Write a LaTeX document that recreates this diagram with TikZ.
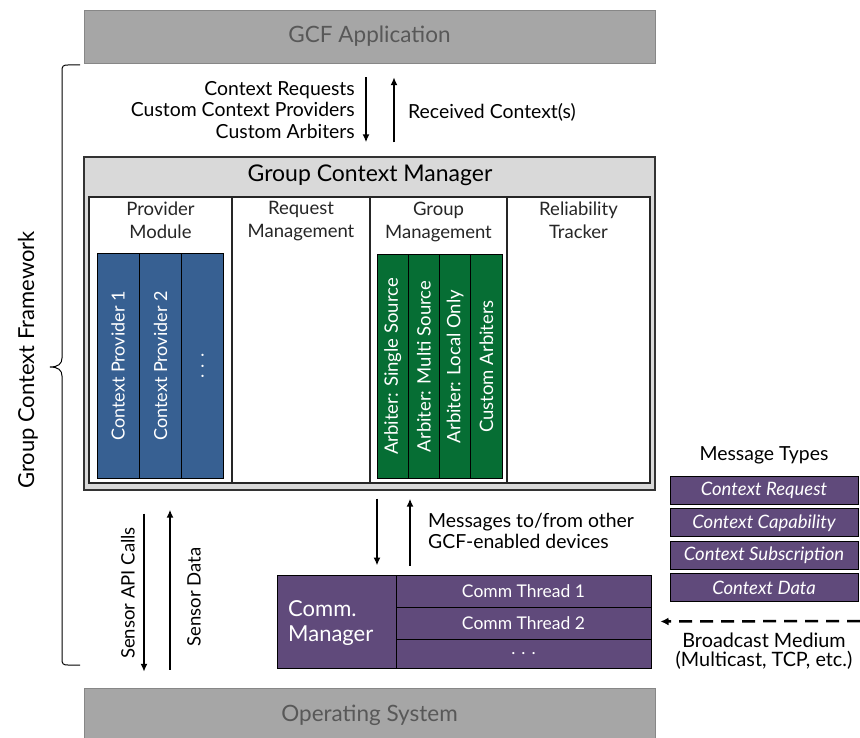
\documentclass[tikz,border=0pt]{standalone}
\usepackage{fontspec}
\setmainfont{Lato}
\usetikzlibrary{positioning,arrows.meta}

\definecolor{CgLayer}{RGB}{166,166,166}
\definecolor{CgLayerB}{RGB}{135,135,135}
\definecolor{CgText}{RGB}{88,88,88}
\definecolor{CgMgr}{RGB}{217,217,217}
\definecolor{CpBlue}{RGB}{55,96,146}
\definecolor{CpGreen}{RGB}{6,110,52}
\definecolor{CpPurple}{RGB}{96,74,123}

\newcommand\pxfont[2]{\fontsize{#1}{#2}\selectfont}

\tikzset{
layerbox/.style={draw=CgLayerB, fill=CgLayer, text=CgText, inner sep=0pt, minimum width=571, minimum height=#1, font=\pxfont{22.5}{26}},
mgrbox/.style={draw=black!80, fill=CgMgr, line width=1.3pt, minimum width=571, minimum height=333, inner sep=0pt},
colbox/.style={draw=black!85, fill=white, line width=1.2pt, minimum width=#1, minimum height=286, inner sep=0pt},
colhead/.style={align=center, font=\pxfont{18.5}{23}, text=black!85, inner sep=0pt},
modbox/.style={draw=black, line width=1pt, text=white, rotate=90, minimum width=224, minimum height=#1, inner sep=0pt},
flow/.style={line width=2pt, -{Latex[length=8pt,width=7pt]}},
bflow/.style={line width=2.5pt, dash pattern=on 13pt off 8pt, -{Latex[length=8pt,width=8pt]}},
lbl/.style={font=\pxfont{19.4}{21.5}, inner sep=0pt},
msgbox/.style={draw=black, fill=CpPurple, text=white, line width=1pt, minimum width=188, minimum height=28, inner sep=0pt, font=\itshape\pxfont{18.5}{21}},
thrbox/.style={draw=black, fill=CpPurple, text=white, line width=1pt, minimum width=255, minimum height=#1, inner sep=0pt, font=\pxfont{17.5}{20}},
}

\begin{document}
\begin{tikzpicture}[x=1pt, y=-1pt]
\useasboundingbox (0,0) rectangle (860,738);

%% Layers
\node[layerbox=53] (app) at (369.5,36.5) {GCF Application};
\node[layerbox=54] (os) at (369.5,715) {Operating System};

%% Framework brace
\draw[line width=1pt] (80,65) -- (68,65) .. controls (63,65) and (62,66) .. (62,71) -- (62,358)
  .. controls (62,364) and (58,367) .. (50,367) .. controls (58,367) and (62,370) .. (62,376)
  -- (62,659) .. controls (62,664) and (63,665) .. (68,665) -- (80,665);
\node[font=\pxfont{22}{26}, rotate=90] (gcf) at (28,360) {Group Context Framework};

%% Group Context Manager
\node[mgrbox] (gcm) at (369.5,323.5) {};
\node[font=\pxfont{23}{27}, inner sep=0pt] (gcmtitle) at (370,175) {Group Context Manager};

\node[colbox=143] (colprov) at (160.5,340) {};
\node[colbox=138] (colreq) at (301,340) {};
\node[colbox=137] (colgrp) at (438.5,340) {};
\node[colbox=143] (colrel) at (578.5,340) {};

\node[colhead, below=5pt of colprov.north] (hprov) {Provider\\Module};
\node[colhead, below=5pt of colreq.north] (hreq) {Request\\Management};
\node[colhead, below=5pt of colgrp.north] (hgrp) {Group\\Management};
\node[colhead, below=5pt of colrel.north] (hrel) {Reliability\\Tracker};

% providers
\foreach \t [count=\i] in {Context Provider 1, Context Provider 2, . . .}
  \node[modbox=42.3, fill=CpBlue, font=\pxfont{18}{21}] (prov\i) at ({75.85+42.3*\i},366) {\t};

% arbiters
\foreach \t [count=\i] in {Arbiter: Single Source, Arbiter: Multi Source, Arbiter: Local Only, Custom Arbiters}
  \node[modbox=31.25, fill=CpGreen, font=\pxfont{18.5}{21}] (arb\i) at ({361.4+31.25*\i},366.5) {\t};

%% Application <-> manager
\draw[flow] ([shift={(-3.5,14)}]app.south) -- ([shift={(-3.5,-14)}]gcm.north);
\draw[flow] ([shift={(24.5,-14)}]gcm.north) -- ([shift={(24.5,14)}]app.south);
\node[lbl, align=right, anchor=east] (reqtxt) at (355,110) {Context Requests\\Custom Context Providers\\Custom Arbiters};
\node[lbl, anchor=west] (rcvtxt) at (408,112) {Received Context(s)};

%% Comm. Manager
\node[draw=black, fill=CpPurple, line width=1pt, minimum width=374, minimum height=93, inner sep=0pt] (comm) at (464,621.5) {};
\node[thrbox=32] (thr1) at (523.5,591) {Comm Thread 1};
\node[thrbox=32] (thr2) at (523.5,623) {Comm Thread 2};
\node[thrbox=29] (thr3) at (523.5,653.5) {. . .};
\node[font=\pxfont{22}{25}, text=white, align=left, anchor=west, inner sep=0pt] (commtxt) at (288,623) {Comm.\\Manager};

%% Manager <-> comm
\draw[flow] ([shift={(7.5,8)}]gcm.south) -- ([shift={(-87,-9)}]comm.north);
\draw[flow] ([shift={(-54,-9)}]comm.north) -- ([shift={(40.5,8)}]gcm.south);
\node[lbl, align=left, anchor=west] (msgtxt) at (428,531) {Messages to/from other\\GCF-enabled devices};

%% Sensors
\draw[flow] ([shift={(-225.5,23)}]gcm.south) -- ([shift={(-225.5,-16)}]os.north);
\draw[flow] ([shift={(-199.5,-18)}]os.north) -- ([shift={(-199.5,19)}]gcm.south);
\node[lbl, rotate=90, font=\pxfont{18.5}{21}] (sapi) at (128,593) {Sensor API Calls};
\node[lbl, rotate=90, font=\pxfont{18.5}{21}] (sdata) at (194,597) {Sensor Data};

%% Message types
\node[lbl] (mtypes) at (764,455) {Message Types};
\foreach \t [count=\i] in {Context Request, Context Capability, Context Subscription, Context Data}
  \node[msgbox] (msg\i) at (764,{458.2+32.3*\i}) {\t};

%% Broadcast medium
\coordinate (bcast) at (860,621);
\draw[bflow] (bcast) -- ([xshift=9pt]comm.east);
\node[lbl, align=center, font=\pxfont{19.8}{19.5}] (bcasttxt) at (764,651) {Broadcast Medium\\(Multicast, TCP, etc.)};
\end{tikzpicture}
\end{document}
